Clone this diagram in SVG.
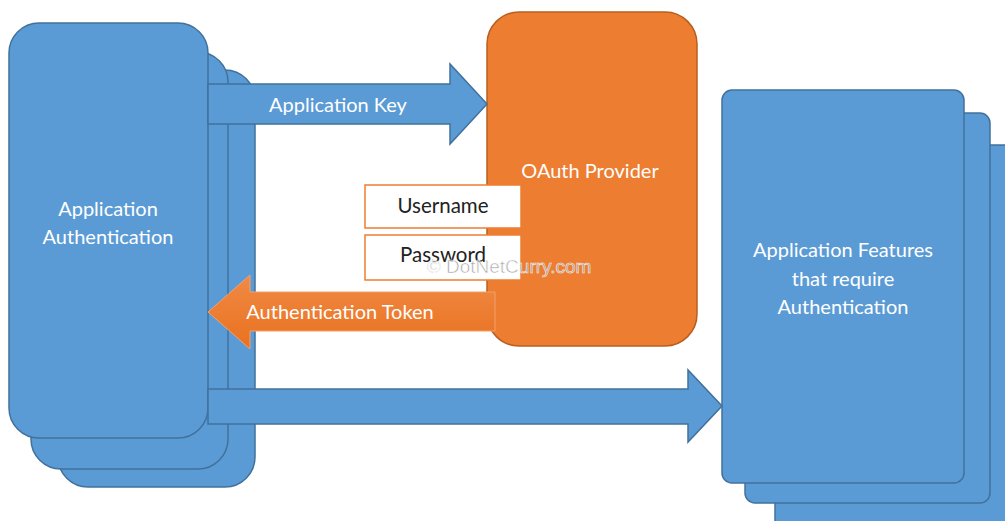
<svg xmlns="http://www.w3.org/2000/svg" width="1005" height="521" viewBox="0 0 1005 521">
<style>
.blue{fill:#5B9BD5;stroke:#41719C;stroke-width:1.5}
.orange{fill:#ED7D31;stroke:#B85F1F;stroke-width:1.5}
.box{fill:#FFFFFF;stroke:#ED7D31;stroke-width:1.5}
.wt{font-family:Lato,"Open Sans",sans-serif;font-size:20px;fill:#FFFFFF;text-anchor:middle}
.bt{font-family:Lato,"Open Sans",sans-serif;font-size:20.5px;fill:#222222;text-anchor:middle}
.wm{font-family:"Liberation Sans",Arial,sans-serif;font-size:19px;fill:#9A9A9A;stroke:#FFFFFF;stroke-width:0.6;opacity:0.85;text-anchor:middle}
</style>
<defs>
<linearGradient id="og" x1="0" y1="0" x2="0" y2="1">
<stop offset="0" stop-color="#F08A45"/>
<stop offset="1" stop-color="#E9711F"/>
</linearGradient>
</defs>
<rect width="1005" height="521" fill="#FFFFFF"/>
<g id="app-auth">
<rect class="blue" x="58" y="70" width="197" height="417" rx="30"/>
<rect class="blue" x="31" y="52" width="197" height="417" rx="30"/>
<rect class="blue" x="9" y="23" width="199" height="415" rx="30"/>
<text class="wt" x="108" y="216">Application</text>
<text class="wt" x="108" y="244">Authentication</text>
</g>
<g id="features">
<rect class="blue" x="775" y="145" width="250" height="400" rx="10"/>
<rect class="blue" x="745" y="113" width="245" height="390" rx="10"/>
<rect class="blue" x="722" y="90" width="242" height="393" rx="10"/>
<text class="wt" x="843" y="257">Application Features</text>
<text class="wt" x="843" y="286">that require</text>
<text class="wt" x="843" y="314">Authentication</text>
</g>
<g id="oauth">
<rect class="orange" x="487" y="12" width="210" height="334" rx="32"/>
<text class="wt" x="590" y="178">OAuth Provider</text>
</g>
<g id="connectors">
<path class="blue" d="M208,84 H450 V64 L487,104 L450,144 V124 H208 Z"/>
<text class="wt" x="338" y="112">Application Key</text>
<path d="M495,292 H250 V275 L208,312 L250,349 V331 H495 Z" fill="url(#og)" stroke="#F4A06A" stroke-width="1"/>
<text class="wt" x="340" y="319">Authentication Token</text>
<path class="blue" d="M208,389 H688 V370 L722,406 L688,442 V424 H208 Z"/>
</g>
<g id="username">
<rect class="box" x="365" y="185" width="156" height="43"/>
<text class="bt" x="443" y="213">Username</text>
</g>
<g id="password">
<rect class="box" x="365" y="235" width="156" height="45"/>
<text class="bt" x="443" y="262">Password</text>
</g>
<text class="wm" x="509" y="273">© DotNetCurry.com</text>
</svg>
